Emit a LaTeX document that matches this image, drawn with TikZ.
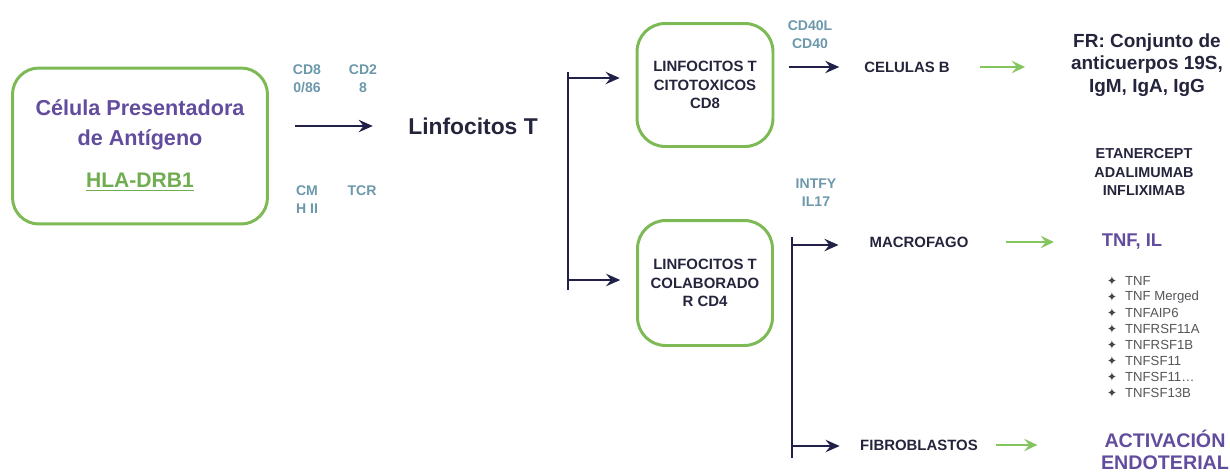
\documentclass[tikz,border=0pt]{standalone}
\usepackage{fontspec}
\setmainfont{Liberation Sans}
\newfontfamily\symfont{DejaVu Sans}
\usetikzlibrary{arrows.meta}

\definecolor{boxgreen}{RGB}{125,186,85}
\definecolor{arrowgreen}{RGB}{132,197,96}
\definecolor{hlagreen}{RGB}{112,172,80}
\definecolor{apcpurple}{RGB}{98,76,158}
\definecolor{labelteal}{RGB}{108,152,172}
\definecolor{navy}{RGB}{32,32,72}
\definecolor{textdark}{RGB}{36,36,60}
\definecolor{listgray}{RGB}{85,85,90}

\tikzset{
  cellbox/.style={draw=boxgreen, line width=1.7pt, rounded corners=15pt},
  navyarrow/.style={draw=navy, line width=1.4pt, -{Stealth[length=8pt,width=7pt,inset=2.8pt]}},
  greenarrow/.style={draw=arrowgreen, line width=1.2pt, -{Stealth[length=7.5pt,width=7pt,inset=2.8pt]}},
  bracket/.style={draw=navy, line width=1.4pt},
  molec/.style={text=labelteal, font=\fontsize{8}{10.3}\selectfont\bfseries, inner sep=1pt, align=center},
  celltxt/.style={text=textdark, font=\fontsize{8.5}{10.6}\selectfont\bfseries, inner sep=1pt, align=center},
  apctxt/.style={text=apcpurple, font=\fontsize{12.3}{17}\selectfont\bfseries, inner sep=1pt, align=center},
  hlatxt/.style={text=hlagreen, font=\fontsize{12}{14}\selectfont\bfseries, inner sep=1pt},
  bigtxt/.style={text=textdark, font=\fontsize{13}{15}\selectfont\bfseries, inner sep=1pt},
  restxt/.style={text=textdark, font=\fontsize{10.8}{12.8}\selectfont\bfseries, inner sep=1pt, align=center},
  drugtxt/.style={text=textdark, font=\fontsize{8.2}{10.5}\selectfont\bfseries, inner sep=1pt, align=center},
  purpletxt/.style={text=apcpurple, font=\fontsize{11.2}{12.3}\selectfont\bfseries, inner sep=1pt, align=center},
  genetxt/.style={text=listgray, font=\fontsize{7.5}{8}\selectfont, inner sep=1pt},
  bulletmark/.style={text=listgray!80!black, font=\symfont\fontsize{7}{7}\selectfont, inner sep=0pt},
}

\begin{document}
\begin{tikzpicture}[x=0.02cm, y=-0.02cm]
    \useasboundingbox (0,0) rectangle (1230,474);

    % antigen presenting cell
    \node[cellbox, minimum width=5.1cm, minimum height=3.12cm] (apc) at (140,146) {};
    \node[apctxt] (apcname) at (140,125) {Célula Presentadora\\de Antígeno};
    \node[hlatxt] (hla) at (140,182) {\underline{HLA-DRB1}};

    % molecules between APC and T cell
    \node[molec] (cdeo) at (307,79) {CD8\\0/86};
    \node[molec] (cdtw) at (363,79) {CD2\\8};
    \node[molec] (mhc) at (307,200) {CM\\H II};
    \node[molec] (tcr) at (362,191) {TCR};

    \node[bigtxt] (lt) at (473,126) {Linfocitos T};
    \draw[navyarrow, shorten <=15pt, shorten >=19pt] (apc.east |- lt.west) -- (lt.west);

    % split into CD8 and CD4
    \coordinate (bkonetop) at (568,72);
    \coordinate (bkonebot) at (568,290);
    \coordinate (bkonea) at (568,78);
    \coordinate (bkoneb) at (568,280);
    \draw[bracket] (bkonetop) -- (bkonebot);

    \node[cellbox, celltxt, minimum width=2.72cm, minimum height=2.46cm, rounded corners=16pt] (cdeight) at (705,85) {LINFOCITOS T\\CITOTOXICOS\\CD8};
    \node[cellbox, celltxt, minimum width=2.7cm, minimum height=2.5cm, rounded corners=16pt] (cdfour) at (705,283) {LINFOCITOS T\\COLABORADO\\R CD4};
    \draw[navyarrow, shorten >=9pt] (bkonea) -- (bkonea -| cdeight.west);
    \draw[navyarrow, shorten >=9pt] (bkoneb) -- (bkoneb -| cdfour.west);

    % CD8 to B cells
    \node[molec] (cdforty) at (810,35) {CD40L\\CD40};
    \node[celltxt] (celb) at (907,67) {CELULAS B};
    \draw[navyarrow, shorten <=8pt, shorten >=13pt] (cdeight.east |- celb.west) -- (celb.west);
    \node[restxt] (fr) at (1147,65) {FR: Conjunto de\\anticuerpos 19S,\\IgM, IgA, IgG};
    \draw[greenarrow, shorten <=16pt, shorten >=25pt] (celb.east) -- (fr.west |- celb.east);

    \node[drugtxt] (drugs) at (1144,172) {ETANERCEPT\\ADALIMUMAB\\INFLIXIMAB};

    % CD4 to macrophage and fibroblasts
    \node[molec] (intf) at (816,193) {INTFY\\IL17};
    \coordinate (bktwotop) at (792,237);
    \coordinate (bktwobot) at (792,458);
    \coordinate (bktwoa) at (792,245);
    \coordinate (bktwob) at (792,446);
    \draw[bracket] (bktwotop) -- (bktwobot);

    \node[celltxt] (macro) at (919,242) {MACROFAGO};
    \node[celltxt] (fibro) at (919,445) {FIBROBLASTOS};
    \draw[navyarrow, shorten >=16.5pt] (bktwoa) -- (bktwoa -| macro.west);
    \draw[navyarrow, shorten >=10.5pt] (bktwob) -- (bktwob -| fibro.west);

    \node[purpletxt, font=\fontsize{10.5}{12}\selectfont\bfseries] (tnfil) at (1132,242) {TNF, IL};
    \draw[greenarrow, shorten <=20pt, shorten >=26pt] (macro.east) -- (tnfil.west |- macro.east);
    \node[purpletxt] (activ) at (1165,450) {ACTIVACIÓN\\ENDOTERIAL};
    \draw[greenarrow, shorten <=9pt, shorten >=35pt] (fibro.east) -- (activ.west |- fibro.east);

    % TNF gene list
    \foreach \gene [count=\i from 0] in {TNF, TNF Merged, TNFAIP6, TNFRSF11A, TNFRSF1B, TNFSF11, TNFSF11\ldots, TNFSF13B}{
        \node[bulletmark] (dot\i) at (1112,281+16*\i) {✦};
        \node[genetxt, anchor=west] (gene\i) at (1123,281+16*\i) {\gene};
    }
\end{tikzpicture}
\end{document}
